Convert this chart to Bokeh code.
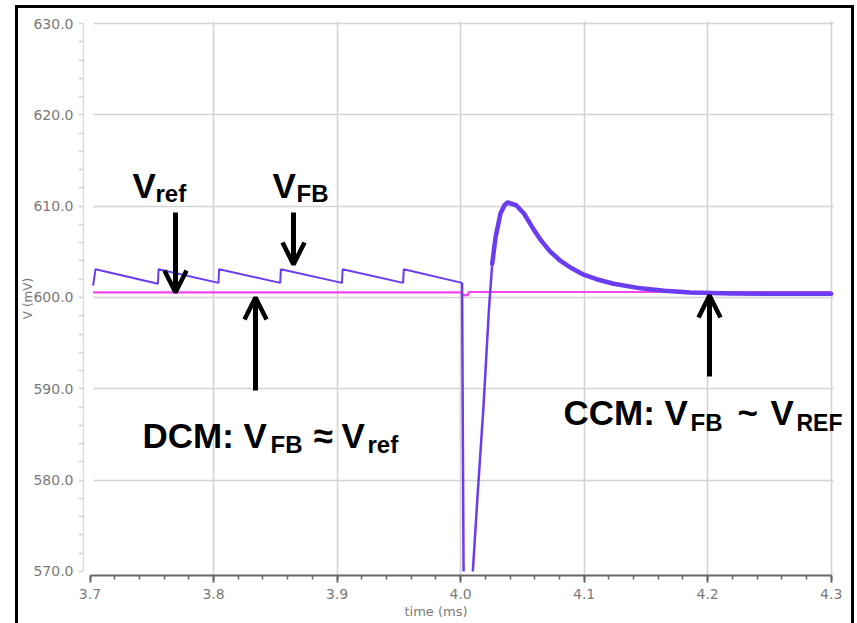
import math
from bokeh.plotting import figure
from bokeh.models import Range1d, FixedTicker, PrintfTickFormatter, Label, Arrow, OpenHead, Title
from bokeh.layouts import column
from bokeh.embed import file_html
from bokeh.resources import INLINE

NAN = float("nan")

# ---------------- data (time in ms, voltage in mV) ----------------
# DCM: sawtooth feedback voltage before the load step
dcm_time = [3.7025, 3.7045, 3.7550, 3.7555, 3.8040, 3.8045, 3.8540, 3.8545,
            3.9040, 3.9045, 3.9535, 3.9540, 4.0012]
dcm_vfb = [601.3, 603.1, 601.5, 603.1, 601.6, 603.1, 601.6, 603.1,
           601.6, 603.1, 601.6, 603.1, 601.6]

# load step: undershoot (clipped at the axis) and rise
step_time = [4.0012, 4.0024, NAN, 4.0099, 4.0135, 4.0185, 4.0229, 4.0256]
step_vfb = [601.6, 570.0, NAN, 570.0, 577.8, 588.0, 598.6, 603.7]

# CCM: overshoot and recovery
ccm_time = [4.0256, 4.0283, 4.0323, 4.0355, 4.0380, 4.0450, 4.0513, 4.0580, 4.0648,
            4.0720, 4.0810, 4.0900, 4.0996, 4.1100, 4.1239, 4.1457, 4.1650, 4.1860,
            4.2200, 4.2600, 4.3000]
ccm_vfb = [603.7, 606.6, 609.2, 610.1, 610.4, 610.1, 609.2, 607.7, 606.3,
           605.1, 604.0, 603.2, 602.5, 602.0, 601.5, 601.0, 600.75, 600.55,
           600.45, 600.4, 600.4]

# reference voltage
vref_time = [3.7025, 4.0010, 4.0015, 4.0060, 4.0065, 4.3000]
vref_mv = [600.55, 600.55, 600.25, 600.25, 600.6, 600.6]

x_ticks = [3.7, 3.8, 3.9, 4.0, 4.1, 4.2, 4.3]
x_minor = [round(3.7 + 0.02 * i, 2) for i in range(31)]
y_ticks = [570, 580, 590, 600, 610, 620, 630]
y_minor = [570 + 2 * i for i in range(31)]

x_label = "time (ms)"
y_label = "V (mV)"

# ---------------- layout helpers (pixel -> data) ----------------
PX_MS = 1235.3   # px per ms
PX_MV = 9.133    # px per mV
X37 = 89.5       # page x of t = 3.7 ms
Y630 = 23.0      # page y of 630 mV


def tx(px):
    return 3.7 + (px - X37) / PX_MS


def vy(py):
    return 630.0 - (py - Y630) / PX_MV


BLUE = "#6a3cf2"
PINK = "#f645f2"

p = figure(width=833, height=615,
           x_range=Range1d(tx(83), tx(851)), y_range=Range1d(vy(575), vy(21)),
           output_backend="svg", toolbar_location=None,
           min_border_left=65, min_border_right=0, min_border_top=13, min_border_bottom=48)
p.outline_line_color = None
p.background_fill_color = "white"
p.border_fill_color = "white"

xt = FixedTicker(ticks=x_ticks, minor_ticks=x_minor)
yt = FixedTicker(ticks=y_ticks, minor_ticks=y_minor)
p.xaxis.ticker = xt
p.yaxis.ticker = yt
p.xgrid.ticker = FixedTicker(ticks=x_ticks[1:])
p.ygrid.ticker = FixedTicker(ticks=y_ticks[1:])
for g in (p.xgrid[0], p.ygrid[0]):
    g.grid_line_color = "#d4d4d4"
    g.grid_line_width = 1.6
if "cross_bounds" in p.ygrid[0].properties():
    p.ygrid[0].cross_bounds = (tx(93), tx(832.5))
    p.xgrid[0].cross_bounds = (vy(575), vy(19))

p.xaxis.bounds = (x_ticks[0], x_ticks[-1])
p.yaxis.bounds = (y_ticks[0], y_ticks[-1])
p.xaxis.formatter = PrintfTickFormatter(format="%.1f")
p.yaxis.formatter = PrintfTickFormatter(format="%.1f")

for ax in (p.xaxis, p.yaxis):
    ax.major_label_text_font = "DejaVu Sans"
    ax.major_label_text_font_size = "14px"
    ax.major_label_text_color = "#7a7a7a"

p.xaxis.axis_line_color = "#666666"
p.xaxis.axis_line_width = 2
p.xaxis.major_tick_line_color = "#666666"
p.xaxis.major_tick_line_width = 2
p.xaxis.major_tick_out = 7
p.xaxis.major_tick_in = 0
p.xaxis.minor_tick_line_color = "#666666"
p.xaxis.minor_tick_line_width = 1.5
p.xaxis.minor_tick_out = 4
p.xaxis.minor_tick_in = 0
p.xaxis.major_label_standoff = 6

p.yaxis.axis_line_color = "#dddddd"
p.yaxis.axis_line_width = 1.5
p.yaxis.major_tick_line_color = None
p.yaxis.major_tick_out = 0
p.yaxis.major_tick_in = 0
p.yaxis.minor_tick_line_color = "#d6d6d6"
p.yaxis.minor_tick_line_width = 1.5
p.yaxis.minor_tick_out = 5
p.yaxis.minor_tick_in = 0
p.yaxis.major_label_standoff = 5

# ---------------- axis titles ----------------
p.add_layout(Title(text=x_label, align="left", offset=321, standoff=0,
                   text_font="DejaVu Sans", text_font_size="13px",
                   text_font_style="normal", text_color="#7a7a7a"), "below")
p.yaxis.axis_label = y_label
p.yaxis.axis_label_standoff = -5
p.yaxis.axis_label_text_font = "DejaVu Sans"
p.yaxis.axis_label_text_font_size = "12px"
p.yaxis.axis_label_text_font_style = "normal"
p.yaxis.axis_label_text_color = "#7a7a7a"

# ---------------- traces ----------------
p.line(vref_time, vref_mv, line_color=PINK, line_width=2.2)
p.line(dcm_time, dcm_vfb, line_color=BLUE, line_width=2)
p.line(step_time, step_vfb, line_color=BLUE, line_width=2.5)
p.line(ccm_time, ccm_vfb, line_color=BLUE, line_width=4.5, line_join="round", line_cap="round")

# ---------------- annotations ----------------
MAIN, SUB = 35, 24
pieces = [
    ("V", 132, 185, MAIN), ("ref", 155, 193, SUB),
    ("V", 272, 185, MAIN), ("FB", 296, 193, SUB),
    ("DCM: V", 142, 435, MAIN), ("FB", 270, 444, SUB), ("\u2248", 313, 435, MAIN),
    ("V", 341, 435, MAIN), ("ref", 367, 444, SUB),
    ("CCM: V", 563, 412, MAIN), ("FB", 690, 422, SUB), ("~", 737, 412, MAIN),
    ("V", 770, 412, MAIN), ("REF", 796, 422, 23),
]
for txt, px, py, fs in pieces:
    p.add_layout(Label(x=tx(px), y=vy(py), text=txt, text_font="Liberation Sans",
                       text_font_style="bold", text_font_size=f"{fs}px",
                       text_color="black", text_align="left", text_baseline="alphabetic"))

arrows = [
    (175, 212, 175, 292),
    (293, 212, 293, 264),
    (255, 390, 255, 297),
    (709, 376, 709, 295),
]
for x0, y0, x1, y1 in arrows:
    p.add_layout(Arrow(end=OpenHead(size=22, line_width=4.5, line_color="black"),
                       x_start=tx(x0), y_start=vy(y0), x_end=tx(x1), y_end=vy(y1),
                       line_width=5, line_color="black"))

layout = column(p, styles={
    "margin-left": "15px", "margin-top": "5px",
    "border-left": "3px solid black", "border-top": "3px solid black",
    "border-right": "3px solid black",
})

open("out.html", "w").write(file_html(layout, INLINE))
